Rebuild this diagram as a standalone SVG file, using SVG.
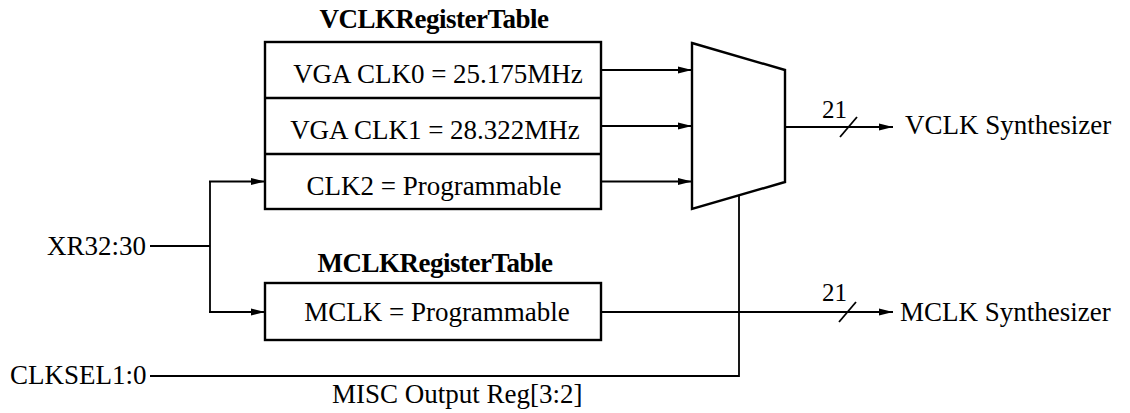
<svg xmlns="http://www.w3.org/2000/svg" width="1130" height="413" viewBox="0 0 1130 413">
<defs>
<style>
text{font-family:"Liberation Serif","Times New Roman",serif;font-size:27px;fill:#000}
.t{font-weight:bold;text-anchor:middle;font-size:27px;letter-spacing:-0.5px}
.c{text-anchor:middle}
.box{fill:#fff;stroke:#000;stroke-width:2.4}
.ln{fill:none;stroke:#000;stroke-width:1.8}
</style>
<marker id="ah" markerWidth="14" markerHeight="8" refX="14" refY="4" orient="auto" markerUnits="userSpaceOnUse">
<path d="M0,0.5 L14,4 L0,7.5 Z" fill="#000"/>
</marker>
</defs>
<g id="vclk-table">
<text class="t" x="434" y="28">VCLKRegisterTable</text>
<rect class="box" x="265" y="42" width="336" height="167"/>
<line class="box" x1="265" y1="98" x2="601" y2="98"/>
<line class="box" x1="265" y1="154" x2="601" y2="154"/>
<text class="c" x="438" y="83">VGA CLK0 = 25.175MHz</text>
<text class="c" x="435" y="139">VGA CLK1 = 28.322MHz</text>
<text class="c" x="434" y="195">CLK2 = Programmable</text>
</g>
<g id="mclk-table">
<text class="t" x="435" y="272">MCLKRegisterTable</text>
<rect class="box" x="265" y="283" width="336" height="57"/>
<text class="c" x="437" y="321">MCLK = Programmable</text>
</g>
<g id="mux">
<polygon class="box" points="692,43 785,70 785,182 692,209"/>
</g>
<g id="labels">
<text x="47" y="255">XR32:30</text>
<text x="10" y="384">CLKSEL1:0</text>
<text x="332" y="403">MISC Output Reg[3:2]</text>
<text x="905" y="134">VCLK Synthesizer</text>
<text x="900" y="321">MCLK Synthesizer</text>
<text x="822" y="118" style="font-size:25px">21</text>
<text x="822" y="301" style="font-size:25px">21</text>
</g>
<g id="connectors">
<line class="ln" x1="601" y1="70" x2="692" y2="70" marker-end="url(#ah)"/>
<line class="ln" x1="601" y1="126" x2="692" y2="126" marker-end="url(#ah)"/>
<line class="ln" x1="601" y1="181.5" x2="692" y2="181.5" marker-end="url(#ah)"/>
<line class="ln" x1="150" y1="246" x2="210" y2="246"/>
<line class="ln" x1="210" y1="181.5" x2="210" y2="312"/>
<line class="ln" x1="209" y1="181.5" x2="265" y2="181.5" marker-end="url(#ah)"/>
<line class="ln" x1="209" y1="312" x2="265" y2="312" marker-end="url(#ah)"/>
<polyline class="ln" points="150,376 739,376 739,195.5"/>
<line class="ln" x1="785" y1="127" x2="893" y2="127" marker-end="url(#ah)"/>
<line class="ln" x1="840" y1="137" x2="857" y2="117"/>
<line class="ln" x1="601" y1="312" x2="893" y2="312" marker-end="url(#ah)"/>
<line class="ln" x1="839" y1="322" x2="856" y2="302"/>
</g>
</svg>
